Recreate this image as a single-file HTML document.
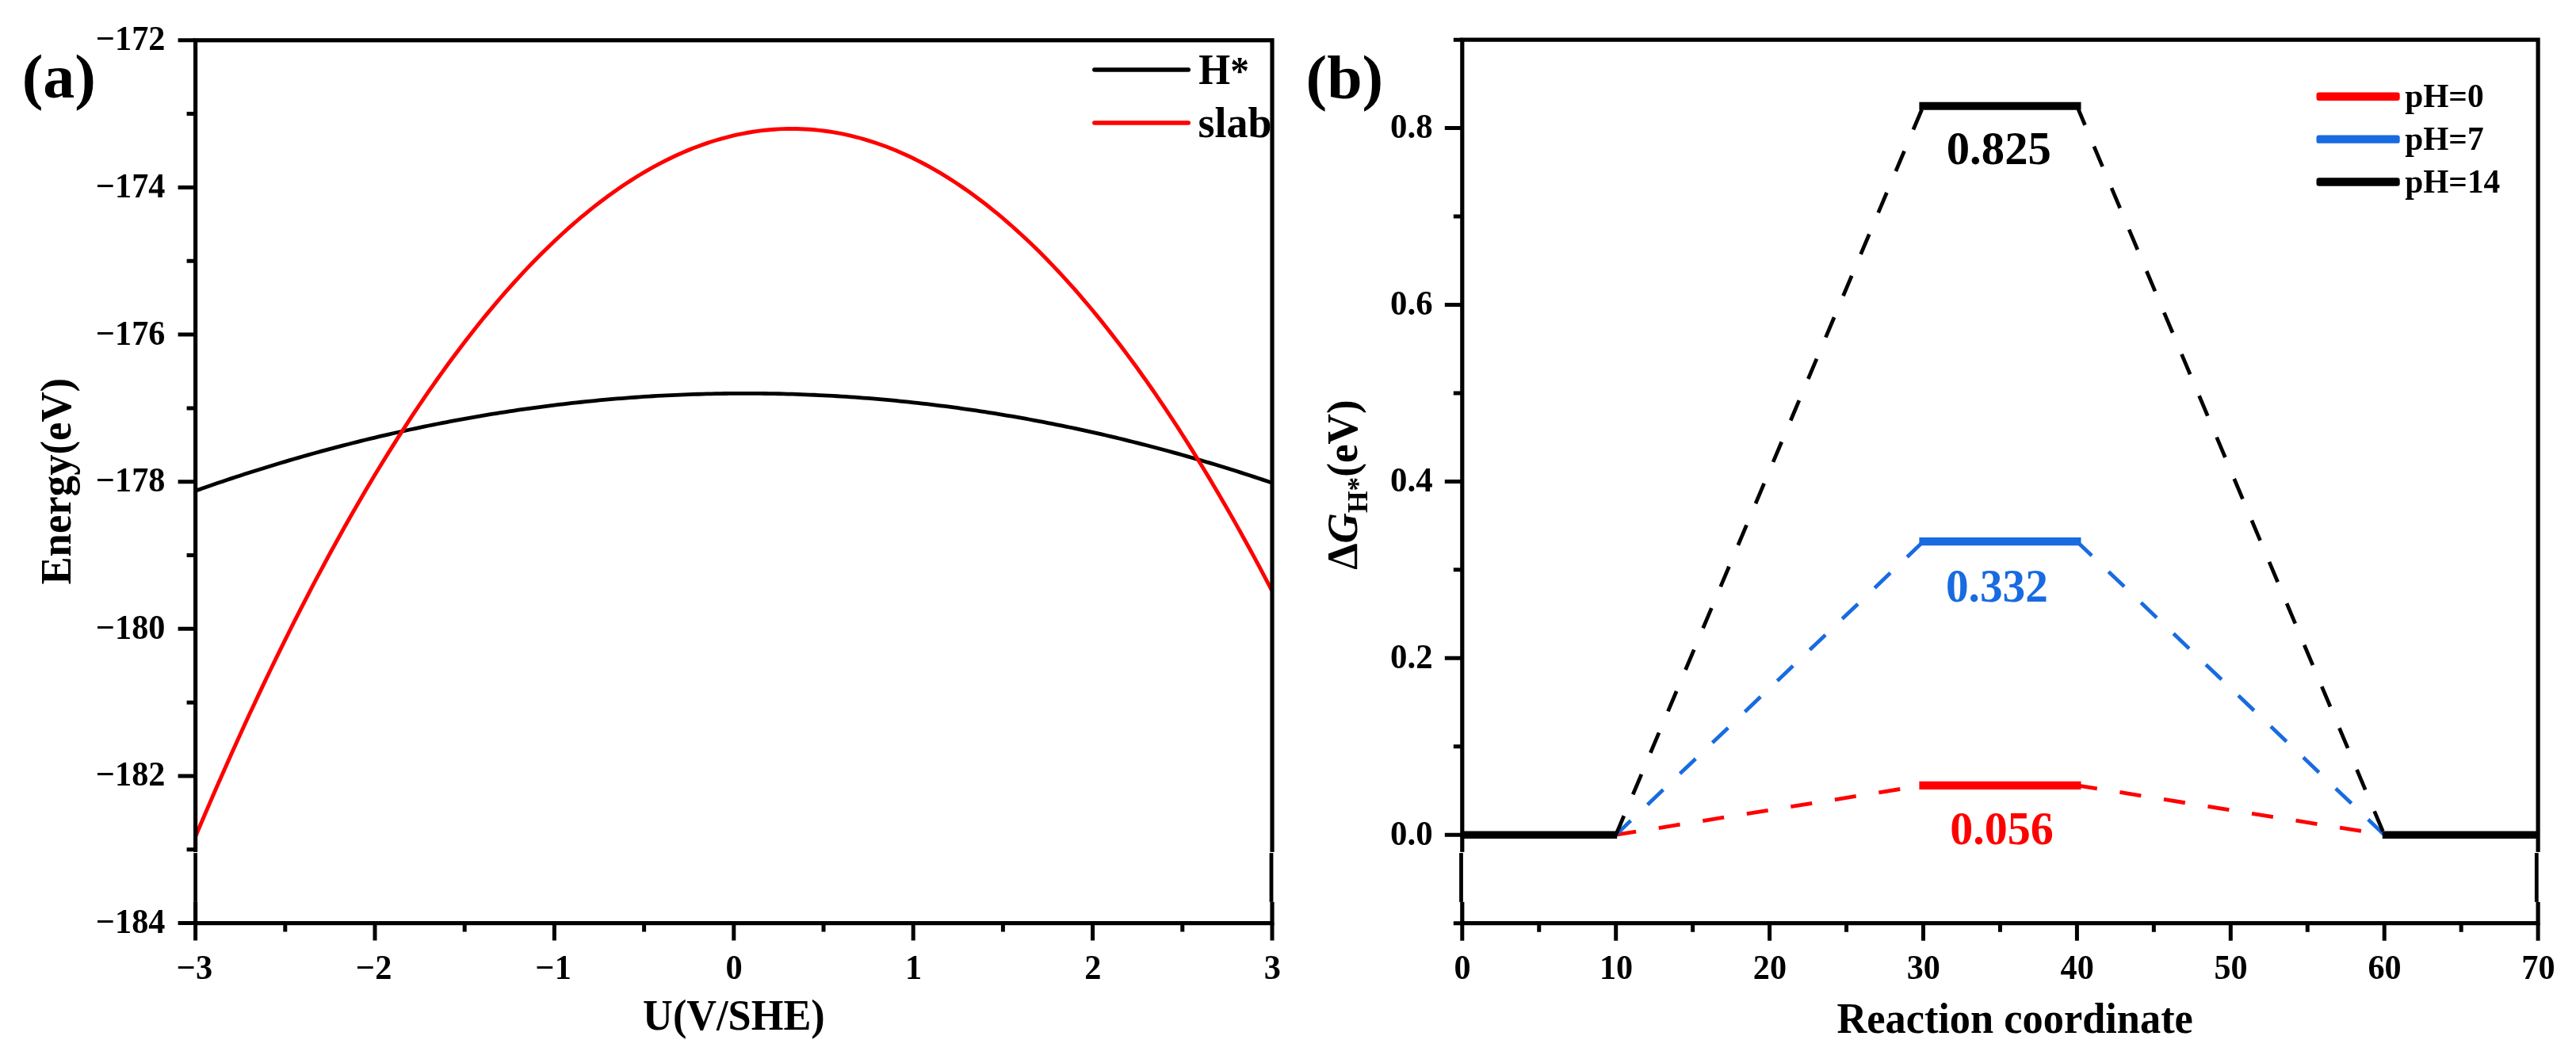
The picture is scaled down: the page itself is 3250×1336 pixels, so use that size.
<!DOCTYPE html>
<html><head><meta charset="utf-8"><title>Energy vs potential and free energy diagram</title>
<style>
html,body{margin:0;padding:0;background:#fff;}
body{width:3250px;height:1336px;overflow:hidden;}
svg{display:block;will-change:transform;}
</style></head>
<body>
<svg width="3250" height="1336" viewBox="0 0 3250 1336">
<rect width="3250" height="1336" fill="#fff"/>
<clipPath id="ca"><rect x="246.60" y="50.78" width="1358.40" height="1113.84"/></clipPath>
<g clip-path="url(#ca)" fill="none" stroke-linejoin="round">
<path d="M246.60,619.15 L252.26,617.16 L257.92,615.17 L263.58,613.21 L269.24,611.26 L274.90,609.33 L280.56,607.42 L286.22,605.52 L291.88,603.64 L297.54,601.77 L303.20,599.92 L308.86,598.09 L314.52,596.27 L320.18,594.47 L325.84,592.69 L331.50,590.92 L337.16,589.17 L342.82,587.43 L348.48,585.72 L354.14,584.01 L359.80,582.33 L365.46,580.66 L371.12,579.01 L376.78,577.37 L382.44,575.75 L388.10,574.15 L393.76,572.56 L399.42,570.99 L405.08,569.43 L410.74,567.89 L416.40,566.37 L422.06,564.86 L427.72,563.38 L433.38,561.90 L439.04,560.45 L444.70,559.01 L450.36,557.58 L456.02,556.17 L461.68,554.78 L467.34,553.41 L473.00,552.05 L478.66,550.71 L484.32,549.38 L489.98,548.07 L495.64,546.78 L501.30,545.50 L506.96,544.24 L512.62,543.00 L518.28,541.77 L523.94,540.56 L529.60,539.36 L535.26,538.18 L540.92,537.02 L546.58,535.88 L552.24,534.75 L557.90,533.63 L563.56,532.54 L569.22,531.46 L574.88,530.39 L580.54,529.34 L586.20,528.31 L591.86,527.30 L597.52,526.30 L603.18,525.32 L608.84,524.35 L614.50,523.40 L620.16,522.47 L625.82,521.55 L631.48,520.65 L637.14,519.77 L642.80,518.90 L648.46,518.05 L654.12,517.21 L659.78,516.39 L665.44,515.59 L671.10,514.81 L676.76,514.04 L682.42,513.28 L688.08,512.55 L693.74,511.83 L699.40,511.12 L705.06,510.43 L710.72,509.76 L716.38,509.11 L722.04,508.47 L727.70,507.85 L733.36,507.24 L739.02,506.65 L744.68,506.08 L750.34,505.52 L756.00,504.98 L761.66,504.46 L767.32,503.95 L772.98,503.46 L778.64,502.98 L784.30,502.52 L789.96,502.08 L795.62,501.65 L801.28,501.24 L806.94,500.85 L812.60,500.47 L818.26,500.11 L823.92,499.77 L829.58,499.44 L835.24,499.13 L840.90,498.83 L846.56,498.55 L852.22,498.29 L857.88,498.05 L863.54,497.82 L869.20,497.60 L874.86,497.41 L880.52,497.23 L886.18,497.06 L891.84,496.91 L897.50,496.78 L903.16,496.67 L908.82,496.57 L914.48,496.48 L920.14,496.42 L925.80,496.37 L931.46,496.34 L937.12,496.32 L942.78,496.32 L948.44,496.33 L954.10,496.37 L959.76,496.41 L965.42,496.48 L971.08,496.56 L976.74,496.66 L982.40,496.77 L988.06,496.90 L993.72,497.05 L999.38,497.21 L1005.04,497.39 L1010.70,497.59 L1016.36,497.80 L1022.02,498.03 L1027.68,498.27 L1033.34,498.53 L1039.00,498.81 L1044.66,499.10 L1050.32,499.41 L1055.98,499.74 L1061.64,500.08 L1067.30,500.44 L1072.96,500.82 L1078.62,501.21 L1084.28,501.62 L1089.94,502.04 L1095.60,502.48 L1101.26,502.94 L1106.92,503.41 L1112.58,503.90 L1118.24,504.41 L1123.90,504.93 L1129.56,505.47 L1135.22,506.03 L1140.88,506.60 L1146.54,507.19 L1152.20,507.79 L1157.86,508.41 L1163.52,509.05 L1169.18,509.70 L1174.84,510.37 L1180.50,511.06 L1186.16,511.76 L1191.82,512.48 L1197.48,513.22 L1203.14,513.97 L1208.80,514.74 L1214.46,515.52 L1220.12,516.32 L1225.78,517.14 L1231.44,517.97 L1237.10,518.82 L1242.76,519.69 L1248.42,520.57 L1254.08,521.47 L1259.74,522.39 L1265.40,523.32 L1271.06,524.27 L1276.72,525.23 L1282.38,526.21 L1288.04,527.21 L1293.70,528.22 L1299.36,529.25 L1305.02,530.30 L1310.68,531.36 L1316.34,532.44 L1322.00,533.54 L1327.66,534.65 L1333.32,535.78 L1338.98,536.92 L1344.64,538.08 L1350.30,539.26 L1355.96,540.45 L1361.62,541.66 L1367.28,542.89 L1372.94,544.13 L1378.60,545.39 L1384.26,546.67 L1389.92,547.96 L1395.58,549.26 L1401.24,550.59 L1406.90,551.93 L1412.56,553.29 L1418.22,554.66 L1423.88,556.05 L1429.54,557.46 L1435.20,558.88 L1440.86,560.32 L1446.52,561.77 L1452.18,563.25 L1457.84,564.73 L1463.50,566.24 L1469.16,567.76 L1474.82,569.30 L1480.48,570.85 L1486.14,572.42 L1491.80,574.00 L1497.46,575.61 L1503.12,577.23 L1508.78,578.86 L1514.44,580.51 L1520.10,582.18 L1525.76,583.87 L1531.42,585.57 L1537.08,587.28 L1542.74,589.02 L1548.40,590.77 L1554.06,592.53 L1559.72,594.31 L1565.38,596.11 L1571.04,597.93 L1576.70,599.76 L1582.36,601.61 L1588.02,603.47 L1593.68,605.35 L1599.34,607.25 L1605.00,609.16" stroke="#000000" stroke-width="4.8"/>
<path d="M246.60,1055.45 L252.26,1042.07 L257.92,1028.80 L263.58,1015.62 L269.24,1002.55 L274.90,989.57 L280.56,976.70 L286.22,963.93 L291.88,951.26 L297.54,938.69 L303.20,926.22 L308.86,913.85 L314.52,901.59 L320.18,889.42 L325.84,877.36 L331.50,865.39 L337.16,853.53 L342.82,841.77 L348.48,830.11 L354.14,818.55 L359.80,807.09 L365.46,795.73 L371.12,784.47 L376.78,773.31 L382.44,762.26 L388.10,751.30 L393.76,740.45 L399.42,729.70 L405.08,719.05 L410.74,708.49 L416.40,698.04 L422.06,687.70 L427.72,677.45 L433.38,667.30 L439.04,657.25 L444.70,647.31 L450.36,637.47 L456.02,627.72 L461.68,618.08 L467.34,608.54 L473.00,599.10 L478.66,589.76 L484.32,580.52 L489.98,571.38 L495.64,562.35 L501.30,553.41 L506.96,544.57 L512.62,535.84 L518.28,527.21 L523.94,518.68 L529.60,510.24 L535.26,501.91 L540.92,493.69 L546.58,485.56 L552.24,477.53 L557.90,469.60 L563.56,461.78 L569.22,454.05 L574.88,446.43 L580.54,438.91 L586.20,431.49 L591.86,424.17 L597.52,416.95 L603.18,409.83 L608.84,402.81 L614.50,395.89 L620.16,389.08 L625.82,382.36 L631.48,375.75 L637.14,369.23 L642.80,362.82 L648.46,356.51 L654.12,350.30 L659.78,344.19 L665.44,338.18 L671.10,332.28 L676.76,326.47 L682.42,320.76 L688.08,315.16 L693.74,309.65 L699.40,304.25 L705.06,298.95 L710.72,293.75 L716.38,288.65 L722.04,283.65 L727.70,278.75 L733.36,273.96 L739.02,269.26 L744.68,264.67 L750.34,260.17 L756.00,255.78 L761.66,251.49 L767.32,247.29 L772.98,243.20 L778.64,239.21 L784.30,235.33 L789.96,231.54 L795.62,227.85 L801.28,224.27 L806.94,220.78 L812.60,217.40 L818.26,214.12 L823.92,210.94 L829.58,207.86 L835.24,204.88 L840.90,202.00 L846.56,199.22 L852.22,196.54 L857.88,193.97 L863.54,191.50 L869.20,189.12 L874.86,186.85 L880.52,184.68 L886.18,182.61 L891.84,180.64 L897.50,178.77 L903.16,177.01 L908.82,175.34 L914.48,173.78 L920.14,172.31 L925.80,170.95 L931.46,169.69 L937.12,168.53 L942.78,167.47 L948.44,166.51 L954.10,165.66 L959.76,164.90 L965.42,164.25 L971.08,163.70 L976.74,163.25 L982.40,162.90 L988.06,162.65 L993.72,162.51 L999.38,162.46 L1005.04,162.52 L1010.70,162.68 L1016.36,162.94 L1022.02,163.30 L1027.68,163.76 L1033.34,164.33 L1039.00,165.00 L1044.66,165.76 L1050.32,166.64 L1055.98,167.61 L1061.64,168.68 L1067.30,169.86 L1072.96,171.14 L1078.62,172.52 L1084.28,174.00 L1089.94,175.59 L1095.60,177.28 L1101.26,179.07 L1106.92,180.96 L1112.58,182.96 L1118.24,185.05 L1123.90,187.25 L1129.56,189.55 L1135.22,191.96 L1140.88,194.47 L1146.54,197.07 L1152.20,199.79 L1157.86,202.60 L1163.52,205.51 L1169.18,208.53 L1174.84,211.65 L1180.50,214.88 L1186.16,218.20 L1191.82,221.63 L1197.48,225.16 L1203.14,228.79 L1208.80,232.52 L1214.46,236.35 L1220.12,240.29 L1225.78,244.33 L1231.44,248.47 L1237.10,252.71 L1242.76,257.06 L1248.42,261.50 L1254.08,266.05 L1259.74,270.70 L1265.40,275.45 L1271.06,280.30 L1276.72,285.25 L1282.38,290.31 L1288.04,295.47 L1293.70,300.72 L1299.36,306.08 L1305.02,311.54 L1310.68,317.11 L1316.34,322.77 L1322.00,328.53 L1327.66,334.40 L1333.32,340.37 L1338.98,346.43 L1344.64,352.60 L1350.30,358.87 L1355.96,365.24 L1361.62,371.72 L1367.28,378.29 L1372.94,384.97 L1378.60,391.74 L1384.26,398.62 L1389.92,405.60 L1395.58,412.68 L1401.24,419.86 L1406.90,427.14 L1412.56,434.52 L1418.22,442.00 L1423.88,449.59 L1429.54,457.27 L1435.20,465.06 L1440.86,472.95 L1446.52,480.93 L1452.18,489.02 L1457.84,497.21 L1463.50,505.51 L1469.16,513.90 L1474.82,522.39 L1480.48,530.99 L1486.14,539.68 L1491.80,548.48 L1497.46,557.37 L1503.12,566.37 L1508.78,575.47 L1514.44,584.67 L1520.10,593.97 L1525.76,603.37 L1531.42,612.88 L1537.08,622.48 L1542.74,632.19 L1548.40,641.99 L1554.06,651.90 L1559.72,661.91 L1565.38,672.01 L1571.04,682.22 L1576.70,692.54 L1582.36,702.95 L1588.02,713.46 L1593.68,724.07 L1599.34,734.79 L1605.00,745.60" stroke="#ff0000" stroke-width="4.9"/>
</g>
<rect x="246.60" y="50.78" width="1358.40" height="1113.84" fill="none" stroke="#000" stroke-width="5.2" stroke-linecap="square"/>
<path d="M224.60,50.78 H246.60 M235.60,143.60 H246.60 M224.60,236.42 H246.60 M235.60,329.24 H246.60 M224.60,422.06 H246.60 M235.60,514.88 H246.60 M224.60,607.70 H246.60 M235.60,700.52 H246.60 M224.60,793.34 H246.60 M235.60,886.16 H246.60 M224.60,978.98 H246.60 M235.60,1071.80 H246.60 M224.60,1164.62 H246.60 M246.60,1164.62 V1186.62 M359.80,1164.62 V1175.62 M473.00,1164.62 V1186.62 M586.20,1164.62 V1175.62 M699.40,1164.62 V1186.62 M812.60,1164.62 V1175.62 M925.80,1164.62 V1186.62 M1039.00,1164.62 V1175.62 M1152.20,1164.62 V1186.62 M1265.40,1164.62 V1175.62 M1378.60,1164.62 V1186.62 M1491.80,1164.62 V1175.62 M1605.00,1164.62 V1186.62" stroke="#000" stroke-width="5.0" fill="none"/>
<g font-family="'Liberation Serif', 'Times New Roman', serif" font-weight="bold" font-size="43.5" text-anchor="end">
<text transform="translate(208.4,63.28) scale(0.972,1)">−172</text>
<text transform="translate(208.4,248.92) scale(0.972,1)">−174</text>
<text transform="translate(208.4,434.56) scale(0.972,1)">−176</text>
<text transform="translate(208.4,620.20) scale(0.972,1)">−178</text>
<text transform="translate(208.4,805.84) scale(0.972,1)">−180</text>
<text transform="translate(208.4,991.48) scale(0.972,1)">−182</text>
<text transform="translate(208.4,1177.12) scale(0.972,1)">−184</text>
</g>
<g font-family="'Liberation Serif', 'Times New Roman', serif" font-weight="bold" font-size="43.5" text-anchor="middle">
<text transform="translate(245.40,1234.6) scale(0.975,1)">−3</text>
<text transform="translate(471.80,1234.6) scale(0.975,1)">−2</text>
<text transform="translate(698.20,1234.6) scale(0.975,1)">−1</text>
<text transform="translate(926.10,1234.6) scale(0.975,1)">0</text>
<text transform="translate(1152.50,1234.6) scale(0.975,1)">1</text>
<text transform="translate(1378.90,1234.6) scale(0.975,1)">2</text>
<text transform="translate(1605.30,1234.6) scale(0.975,1)">3</text>
</g>
<text transform="translate(925.9,1299.3) scale(0.96,1)" font-family="'Liberation Serif', 'Times New Roman', serif" font-weight="bold" font-size="54.5" text-anchor="middle">U(V/SHE)</text>
<text transform="translate(89.1,607.2) rotate(-90) scale(0.977,1)" font-family="'Liberation Serif', 'Times New Roman', serif" font-weight="bold" font-size="54" text-anchor="middle">Energy(eV)</text>
<text transform="translate(27.7,122.6) scale(1,0.984)" font-family="'Liberation Serif', 'Times New Roman', serif" font-weight="bold" font-size="80">(a)</text>
<path d="M1380.8,88.1 H1499.3" stroke="#000" stroke-width="5.5" stroke-linecap="round"/>
<path d="M1380.8,154.9 H1499.3" stroke="#ff0000" stroke-width="5.5" stroke-linecap="round"/>
<text transform="translate(1512.3,106.3) scale(0.95,1)" font-family="'Liberation Serif', 'Times New Roman', serif" font-weight="bold" font-size="54">H<tspan font-size="50">*</tspan></text>
<text x="1511.4" y="173.4" font-family="'Liberation Serif', 'Times New Roman', serif" font-weight="bold" font-size="54">slab</text>
<rect x="1844.80" y="50.15" width="1357.30" height="1114.50" fill="none" stroke="#000" stroke-width="5.2" stroke-linecap="square"/>
<path d="M1833.80,1164.65 H1844.80 M1822.80,1053.20 H1844.80 M1833.80,941.75 H1844.80 M1822.80,830.30 H1844.80 M1833.80,718.85 H1844.80 M1822.80,607.40 H1844.80 M1833.80,495.95 H1844.80 M1822.80,384.50 H1844.80 M1833.80,273.05 H1844.80 M1822.80,161.60 H1844.80 M1833.80,50.15 H1844.80 M1844.80,1164.65 V1186.65 M1941.75,1164.65 V1175.65 M2038.70,1164.65 V1186.65 M2135.65,1164.65 V1175.65 M2232.60,1164.65 V1186.65 M2329.55,1164.65 V1175.65 M2426.50,1164.65 V1186.65 M2523.45,1164.65 V1175.65 M2620.40,1164.65 V1186.65 M2717.35,1164.65 V1175.65 M2814.30,1164.65 V1186.65 M2911.25,1164.65 V1175.65 M3008.20,1164.65 V1186.65 M3105.15,1164.65 V1175.65 M3202.10,1164.65 V1186.65" stroke="#000" stroke-width="5.0" fill="none"/>
<g font-family="'Liberation Serif', 'Times New Roman', serif" font-weight="bold" font-size="43.5" text-anchor="end">
<text transform="translate(1807.6,1065.70) scale(0.985,1)">0.0</text>
<text transform="translate(1807.6,842.80) scale(0.985,1)">0.2</text>
<text transform="translate(1807.6,619.90) scale(0.985,1)">0.4</text>
<text transform="translate(1807.6,397.00) scale(0.985,1)">0.6</text>
<text transform="translate(1807.6,174.10) scale(0.985,1)">0.8</text>
</g>
<g font-family="'Liberation Serif', 'Times New Roman', serif" font-weight="bold" font-size="43.5" text-anchor="middle">
<text transform="translate(1845.10,1234.6) scale(0.97,1)">0</text>
<text transform="translate(2039.00,1234.6) scale(0.97,1)">10</text>
<text transform="translate(2232.90,1234.6) scale(0.97,1)">20</text>
<text transform="translate(2426.80,1234.6) scale(0.97,1)">30</text>
<text transform="translate(2620.70,1234.6) scale(0.97,1)">40</text>
<text transform="translate(2814.60,1234.6) scale(0.97,1)">50</text>
<text transform="translate(3008.50,1234.6) scale(0.97,1)">60</text>
<text transform="translate(3202.40,1234.6) scale(0.97,1)">70</text>
</g>
<text transform="translate(2542.1,1303.3) scale(0.97,1)" font-family="'Liberation Serif', 'Times New Roman', serif" font-weight="bold" font-size="54" text-anchor="middle">Reaction coordinate</text>
<text transform="translate(1711.8,611.6) rotate(-90) scale(0.985,1)" font-family="'Liberation Serif', 'Times New Roman', serif" font-weight="bold" font-size="54" text-anchor="middle">Δ<tspan font-style="italic">G</tspan><tspan font-size="36" dy="13.5">H*</tspan><tspan dy="-13.5">(eV)</tspan></text>
<text transform="translate(1647.5,123.5) scale(1,0.97)" font-family="'Liberation Serif', 'Times New Roman', serif" font-weight="bold" font-size="80">(b)</text>
<path transform="scale(1,1.014)" d="M2038.70,1038.66 L2426.50,977.11 M2620.40,977.11 L3008.20,1038.66" stroke="#ff0000" stroke-width="4.75" stroke-dasharray="27.2 29.02" stroke-dashoffset="1.5" fill="none"/>
<path transform="scale(1,1.014)" d="M2038.70,1038.66 L2426.50,673.75 M2620.40,673.75 L3008.20,1038.66" stroke="#186be0" stroke-width="4.75" stroke-dasharray="27.2 29.02" stroke-dashoffset="1.5" fill="none"/>
<path transform="scale(1,1.014)" d="M2038.70,1038.66 L2426.50,131.89 M2620.40,131.89 L3008.20,1038.66" stroke="#000000" stroke-width="4.75" stroke-dasharray="27.2 29.02" stroke-dashoffset="1.5" fill="none"/>
<path d="M2426.50,990.79 H2620.40" stroke="#ff0000" stroke-width="10.2" stroke-linecap="square" fill="none"/>
<path d="M2426.50,683.19 H2620.40" stroke="#186be0" stroke-width="10.2" stroke-linecap="square" fill="none"/>
<path d="M2426.50,133.74 H2620.40" stroke="#000000" stroke-width="10.2" stroke-linecap="square" fill="none"/>
<path d="M1844.80,1053.20 H2040.20 M3005.80,1053.20 H3202.10" stroke="#000" stroke-width="9.5" fill="none"/>
<g font-family="'Liberation Serif', 'Times New Roman', serif" font-weight="bold" font-size="59" text-anchor="middle">
<text transform="translate(2525.45,1065.2) scale(0.984,1)" fill="#ff0000">0.056</text>
<text transform="translate(2519.4,758.8) scale(0.972,1)" fill="#186be0">0.332</text>
<text transform="translate(2521.8,206.9) scale(0.995,1)" fill="#000000">0.825</text>
</g>
<rect x="2922.5" y="116.60" width="105.2" height="10.4" rx="3.2" fill="#ff0000"/>
<text transform="translate(3034.2,135.10) scale(0.985,1)" font-family="'Liberation Serif', 'Times New Roman', serif" font-weight="bold" font-size="42">pH=0</text>
<rect x="2922.5" y="170.45" width="105.2" height="10.4" rx="3.2" fill="#186be0"/>
<text transform="translate(3034.2,188.95) scale(0.985,1)" font-family="'Liberation Serif', 'Times New Roman', serif" font-weight="bold" font-size="42">pH=7</text>
<rect x="2922.5" y="224.30" width="105.2" height="10.4" rx="3.2" fill="#000000"/>
<text transform="translate(3034.2,242.80) scale(0.985,1)" font-family="'Liberation Serif', 'Times New Roman', serif" font-weight="bold" font-size="42">pH=14</text>
<rect x="242.60" y="1074.9" width="8" height="63" fill="#fff"/>
<rect x="244.20" y="1076.1" width="4.8" height="61.8" fill="#000"/>
<rect x="1601.00" y="1074.9" width="8" height="63" fill="#fff"/>
<rect x="1601.60" y="1076.1" width="4.8" height="61.8" fill="#000"/>
<rect x="1840.80" y="1074.9" width="8" height="63" fill="#fff"/>
<rect x="1841.10" y="1076.1" width="4.8" height="61.8" fill="#000"/>
<rect x="3198.10" y="1074.9" width="8" height="63" fill="#fff"/>
<rect x="3197.90" y="1076.1" width="4.8" height="61.8" fill="#000"/>
</svg>
</body></html>
